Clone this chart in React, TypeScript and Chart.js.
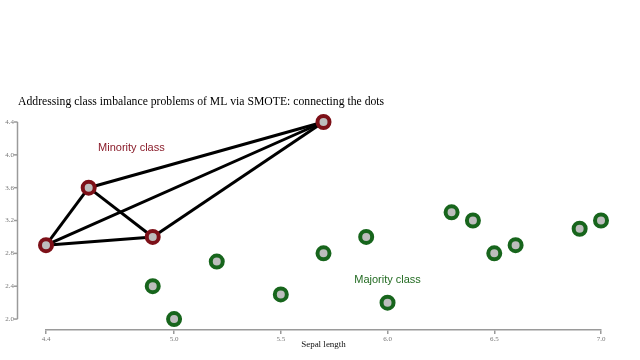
import React, { useEffect, useRef } from "react";
import { Chart, registerables } from "chart.js";

Chart.register(...registerables);

const minorityX = [4.4, 4.6, 4.9, 5.7];
const minorityY = [2.9, 3.6, 3.0, 4.4];
const majorityX = [4.9, 5.0, 5.2, 5.5, 5.7, 5.9, 6.0, 6.3, 6.4, 6.5, 6.6, 6.9, 7.0];
const majorityY = [2.4, 2.0, 2.7, 2.3, 2.8, 3.0, 2.2, 3.3, 3.2, 2.8, 2.9, 3.1, 3.2];
const xTicks = [4.4, 5.0, 5.5, 6.0, 6.5, 7.0];
const yTicks = [2.0, 2.4, 2.8, 3.2, 3.6, 4.0, 4.4];
const titleText = "Addressing class imbalance problems of ML via SMOTE: connecting the dots";
const xLabel = "Sepal length";
const minorityLabel = { text: "Minority class", x: 4.8, y: 4.08 };
const majorityLabel = { text: "Majority class", x: 6.0, y: 2.48 };

const RED = "#7d1018";
const GREEN = "#17651c";
const FILL = "#bdbdbd";

export default function App() {
  const ref = useRef<HTMLCanvasElement>(null);
  useEffect(() => {
    const minority = minorityX.map((x, i) => ({ x, y: minorityY[i] }));
    const majority = majorityX.map((x, i) => ({ x, y: majorityY[i] }));
    const edges: any[] = [];
    for (let i = 0; i < minority.length; i++) {
      for (let j = i + 1; j < minority.length; j++) {
        edges.push({
          type: "line",
          data: [minority[i], minority[j]],
          borderColor: "#000",
          borderWidth: 3,
          pointRadius: 0,
          showLine: true,
          clip: false,
          order: 5,
        });
      }
    }
    const overlay = {
      id: "overlay",
      afterDraw(chart: any) {
        const { ctx, scales } = chart;
        const xs = scales.x, ys = scales.y;
        ctx.save();
        ctx.fillStyle = "#000";
        ctx.font = '11.7px "Liberation Serif", serif';
        ctx.textAlign = "left";
        ctx.textBaseline = "middle";
        ctx.fillText(titleText, 18, 102);
        const axX = 17.5;
        ctx.strokeStyle = "#9a9a9a";
        ctx.lineWidth = 1.5;
        ctx.beginPath();
        ctx.moveTo(axX, ys.getPixelForValue(yTicks[yTicks.length - 1]));
        ctx.lineTo(axX, ys.getPixelForValue(yTicks[0]));
        ctx.stroke();
        ctx.font = '7px "Liberation Serif", serif';
        ctx.fillStyle = "#777";
        ctx.textAlign = "right";
        for (const v of yTicks) {
          const py = ys.getPixelForValue(v);
          ctx.beginPath();
          ctx.moveTo(axX - 3.5, py);
          ctx.lineTo(axX, py);
          ctx.stroke();
          ctx.fillText(v.toFixed(1), axX - 3.5, py);
        }
        ctx.fillStyle = "#111";
        ctx.font = '9px "Liberation Serif", serif';
        ctx.textAlign = "center";
        ctx.fillText(xLabel, (xs.left + xs.right) / 2, 345);
        ctx.font = '11px "Liberation Sans", Arial, sans-serif';
        ctx.fillStyle = "#8a1c2a";
        ctx.fillText(minorityLabel.text, xs.getPixelForValue(minorityLabel.x), ys.getPixelForValue(minorityLabel.y));
        ctx.fillStyle = "#236b22";
        ctx.fillText(majorityLabel.text, xs.getPixelForValue(majorityLabel.x), ys.getPixelForValue(majorityLabel.y));
        ctx.restore();
      },
    };
    const chart = new Chart(ref.current as HTMLCanvasElement, {
      type: "scatter",
      data: {
        datasets: [
          ...edges,
          {
            data: majority,
            pointRadius: 6,
            pointBorderWidth: 4,
            pointBackgroundColor: FILL,
            pointBorderColor: GREEN,
            clip: false,
            order: 1,
          },
          {
            data: minority,
            pointRadius: 6,
            pointBorderWidth: 4,
            pointBackgroundColor: FILL,
            pointBorderColor: RED,
            clip: false,
            order: 0,
          },
        ],
      },
      options: {
        animation: false,
        responsive: false,
        events: [],
        layout: { autoPadding: false, padding: { top: 122, right: 39, left: 0, bottom: 0 } },
        plugins: { legend: { display: false }, tooltip: { enabled: false }, title: { display: false } },
        scales: {
          x: {
            type: "linear",
            min: 4.4,
            max: 7.0,
            afterBuildTicks: (s: any) => { s.ticks = xTicks.map((v) => ({ value: v })); },
            afterFit: (s: any) => { s.height = 30; },
            ticks: {
              callback: (v: any) => Number(v).toFixed(1),
              font: { family: '"Liberation Serif", serif', size: 7 },
              color: "#777",
              padding: 1,
              maxRotation: 0,
            },
            grid: { drawOnChartArea: false, drawTicks: true, tickLength: 4, color: "#9a9a9a", lineWidth: 1.5 },
            border: { display: true, color: "#9a9a9a", width: 1.5 },
          },
          y: {
            type: "linear",
            min: 2.0 - 11 / 82.5,
            max: 4.4,
            afterBuildTicks: (s: any) => { s.ticks = yTicks.map((v) => ({ value: v })); },
            afterFit: (s: any) => { s.width = 46; },
            ticks: { display: false },
            grid: { display: false },
            border: { display: false },
          },
        },
      },
      plugins: [overlay],
    } as any);
    return () => chart.destroy();
  }, []);
  return (
    <div style={{ position: "fixed", left: 0, top: 0, width: 640, height: 360, background: "#fff" }}>
      <canvas ref={ref} width={640} height={360} style={{ width: 640, height: 360 }} />
    </div>
  );
}
